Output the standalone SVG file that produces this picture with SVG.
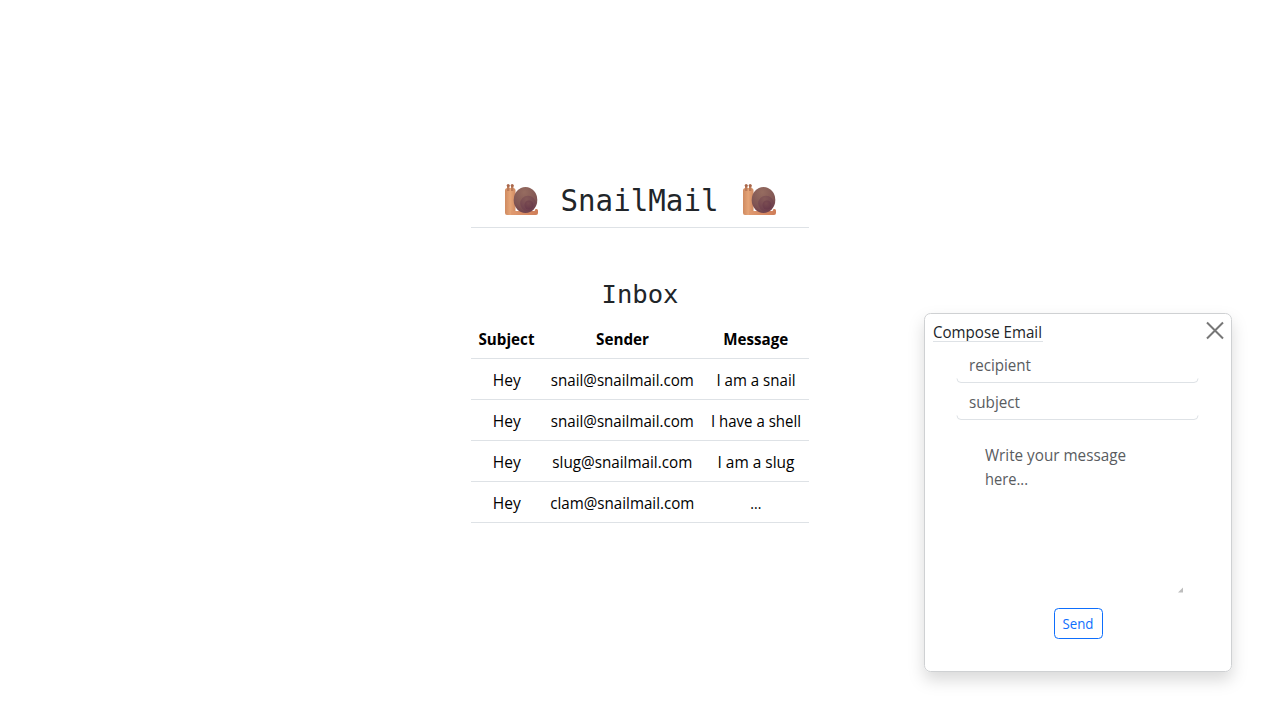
<svg xmlns="http://www.w3.org/2000/svg" xmlns:xlink="http://www.w3.org/1999/xlink" width="1280" height="720" viewBox="0 0 1280 720">
<style>
text{font-family:"Open Sans","Noto Sans",sans-serif;font-size:16px;fill:#000;text-anchor:middle}
.mono{font-family:"DejaVu Sans Mono","Liberation Mono",monospace;fill:#212529}
.b{font-weight:700}
.ph{fill:#595c5f;text-anchor:start}
.rule{stroke:#dee2e6;stroke-width:1;fill:none}
</style>
<defs>
<filter id="sh" x="-20%" y="-20%" width="140%" height="140%"><feDropShadow dx="0" dy="8" stdDeviation="8" flood-color="#000" flood-opacity="0.15"/></filter>
<linearGradient id="body" x1="0" y1="0" x2="1" y2="0"><stop offset="0" stop-color="#cf8a60"/><stop offset="0.5" stop-color="#e5a477"/><stop offset="1" stop-color="#d08a62"/></linearGradient>
<linearGradient id="foot" x1="0" y1="0" x2="1" y2="0"><stop offset="0" stop-color="#e09a70"/><stop offset="1" stop-color="#cf7d58"/></linearGradient>
<radialGradient id="shell" cx="0.45" cy="0.2" r="0.9"><stop offset="0" stop-color="#966c60"/><stop offset="0.6" stop-color="#815654"/><stop offset="1" stop-color="#6a3b4b"/></radialGradient>
<radialGradient id="whorl" cx="0.4" cy="0.2" r="0.9"><stop offset="0" stop-color="#855a58"/><stop offset="1" stop-color="#6b3c4c"/></radialGradient>
<radialGradient id="core" cx="0.4" cy="0.3" r="0.8"><stop offset="0" stop-color="#7a4c51"/><stop offset="1" stop-color="#663749"/></radialGradient>
<g id="snail">
<path d="M0 6.500a2.500 2.500 0 0 1 2.500-2.500h5.500a2.500 2.500 0 0 1 2.500 2.500V31H2a2 2 0 0 1-2-2Z" fill="url(#body)"/>
<rect x="2" y="1" width="2.400" height="6" fill="#bd7b58"/>
<rect x="6" y="1" width="2.400" height="6" fill="#bd7b58"/>
<circle cx="3.200" cy="1.500" r="1.500" fill="#a9684c"/>
<circle cx="7.200" cy="1.500" r="1.500" fill="#a9684c"/>
<path d="M6 31V27H29.500l1-2h1a1.500 1.500 0 0 1 1.500 1.500V29a2 2 0 0 1-2 2Z" fill="url(#foot)"/>
<ellipse cx="20.500" cy="16" rx="11.800" ry="13" fill="url(#shell)"/>
<circle cx="23" cy="19.500" r="7.800" fill="url(#whorl)"/>
<circle cx="24" cy="21" r="4.500" fill="url(#core)"/>
</g>
</defs>
<rect width="1280" height="720" fill="#fff"/>
<g id="header">
<use xlink:href="#snail" x="505" y="184"/>
<text class="mono" x="639.500" y="211" style="font-size:29.300px" textLength="158" lengthAdjust="spacingAndGlyphs">SnailMail</text>
<use xlink:href="#snail" x="743" y="184"/>
<line class="rule" x1="471" y1="227.500" x2="809" y2="227.500"/>
</g>
<g id="inbox">
<text class="mono" x="640" y="303" style="font-size:25.500px" textLength="77" lengthAdjust="spacingAndGlyphs">Inbox</text>
</g>
<g id="table">
<text class="b" x="506.500" y="345" textLength="56" lengthAdjust="spacingAndGlyphs">Subject</text>
<text class="b" x="622.500" y="345" textLength="53" lengthAdjust="spacingAndGlyphs">Sender</text>
<text class="b" x="755.800" y="345" textLength="65" lengthAdjust="spacingAndGlyphs">Message</text>
<line class="rule" x1="471" y1="358.500" x2="809" y2="358.500"/>
<text x="506.800" y="386" textLength="28" lengthAdjust="spacingAndGlyphs">Hey</text>
<text x="622.300" y="386" textLength="143" lengthAdjust="spacingAndGlyphs">snail@snailmail.com</text>
<text x="756" y="386" textLength="79" lengthAdjust="spacingAndGlyphs">I am a snail</text>
<line class="rule" x1="471" y1="399.500" x2="809" y2="399.500"/>
<text x="506.800" y="427" textLength="28" lengthAdjust="spacingAndGlyphs">Hey</text>
<text x="622.300" y="427" textLength="143" lengthAdjust="spacingAndGlyphs">snail@snailmail.com</text>
<text x="756" y="427" textLength="90" lengthAdjust="spacingAndGlyphs">I have a shell</text>
<line class="rule" x1="471" y1="440.500" x2="809" y2="440.500"/>
<text x="506.800" y="468" textLength="28" lengthAdjust="spacingAndGlyphs">Hey</text>
<text x="622.300" y="468" textLength="140" lengthAdjust="spacingAndGlyphs">slug@snailmail.com</text>
<text x="756" y="468" textLength="77" lengthAdjust="spacingAndGlyphs">I am a slug</text>
<line class="rule" x1="471" y1="481.500" x2="809" y2="481.500"/>
<text x="506.800" y="509" textLength="28" lengthAdjust="spacingAndGlyphs">Hey</text>
<text x="622.300" y="509" textLength="144" lengthAdjust="spacingAndGlyphs">clam@snailmail.com</text>
<text x="755.800" y="509" textLength="11" lengthAdjust="spacingAndGlyphs">...</text>
<line class="rule" x1="471" y1="522.500" x2="809" y2="522.500"/>
</g>
<g id="compose">
<rect x="924.500" y="313.500" width="307" height="358" rx="6" fill="#fff" stroke="#cfd1d3" filter="url(#sh)"/>
<text x="987.500" y="338" style="fill:#212529" textLength="109" lengthAdjust="spacingAndGlyphs">Compose Email</text>
<line class="rule" x1="933" y1="341.500" x2="1043" y2="341.500"/>
<path d="M1207 322.500 1223 338.500M1223 322.500 1207 338.500" stroke="#777" stroke-width="2" fill="none"/>
</g>
<g id="recipient">
<path class="rule" d="M957 378.500a4 4 0 0 0 4 4H1194a4 4 0 0 0 4-4"/>
<text class="ph" x="969" y="371" textLength="62" lengthAdjust="spacingAndGlyphs">recipient</text>
</g>
<g id="subject">
<path class="rule" d="M957 415.500a4 4 0 0 0 4 4H1194a4 4 0 0 0 4-4"/>
<text class="ph" x="969" y="408" textLength="51" lengthAdjust="spacingAndGlyphs">subject</text>
</g>
<g id="message">
<text class="ph" x="985" y="461" textLength="141" lengthAdjust="spacingAndGlyphs">Write your message</text>
<text class="ph" x="985" y="485" textLength="43" lengthAdjust="spacingAndGlyphs">here...</text>
<path d="M1178 592.500 1183 587.500V592.500Z" fill="#bdbdbd"/>
</g>
<g id="send">
<rect x="1054.500" y="608.500" width="48" height="30" rx="4" fill="#fff" stroke="#0d6efd"/>
<text x="1078" y="629" style="font-size:14px;fill:#0d6efd" textLength="31" lengthAdjust="spacingAndGlyphs">Send</text>
</g>
</svg>
